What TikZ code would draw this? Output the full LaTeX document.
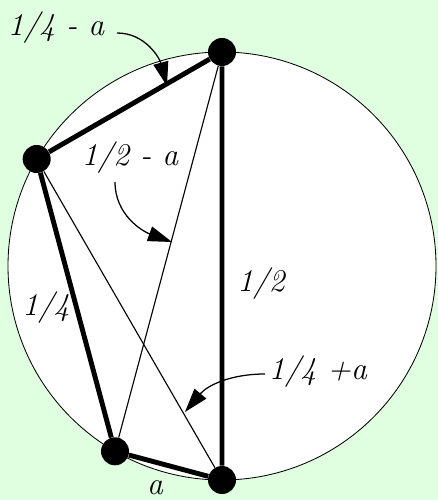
\documentclass[tikz,border=0pt]{standalone}
\usepackage{xcolor}
\usepackage{tikz}
\usetikzlibrary{arrows.meta}
\definecolor{mint}{HTML}{E0FFE0}

\begin{document}
\begin{tikzpicture}[>={Triangle[length=0.6cm,width=0.38cm]},
  dot/.style={circle,fill,inner sep=0pt,minimum size=0.7cm},
  chord/.style={line width=3.5pt},
  thin chord/.style={line width=0.8pt},
  lbl/.style={font=\fontsize{22.5}{27}\selectfont\itshape,inner sep=0pt},
  pointer/.style={->,line width=0.9pt}]
  \fill[mint] (0,0) rectangle (10.95,12.5);
  \useasboundingbox (0,0) rectangle (10.95,12.5);
  \coordinate (cen) at (5.55,5.85);
  \draw[fill=white,line width=0.6pt] (cen) circle (5.35);
  % points on the circle
  \node[dot] (pA) at (5.55,11.2) {};
  \node[dot] (pB) at (0.917,8.525) {};
  \node[dot] (pC) at (2.875,1.217) {};
  \node[dot] (pD) at (5.55,0.5) {};
  \draw[thin chord] (pA) -- (pC);
  \draw[thin chord] (pB) -- (pD);
  \draw[chord] (pA) -- (pB) -- (pC) -- (pD) -- (pA);
  % labels
  \node[lbl] (lAB) at (1.4,11.8) {1/4 - a};
  \node[lbl] (lAC) at (3.25,8.55) {1/2 - a};
  \node[lbl] (lAD) at (6.525,5.4) {1/2};
  \node[lbl] (lBC) at (1.15,4.8) {1/4};
  \node[lbl] (lBD) at (7.95,3.2) {1/4 +a};
  \node[lbl] (lCD) at (3.875,0.3) {a};
  \coordinate (sAB) at (2.925,11.675); \coordinate (tAB) at (4.175,10.35);
  \coordinate (sAC) at (2.875,7.95); \coordinate (tAC) at (4.3,6.45);
  \coordinate (sBD) at (6.625,3.15); \coordinate (tBD) at (4.625,2.2);
  \draw[pointer] (sAB) to[out=0,in=105] (tAB);
  \draw[pointer] (sAC) to[out=-90,in=160] (tAC);
  \draw[pointer] (sBD) to[out=180,in=50] (tBD);
\end{tikzpicture}
\end{document}
